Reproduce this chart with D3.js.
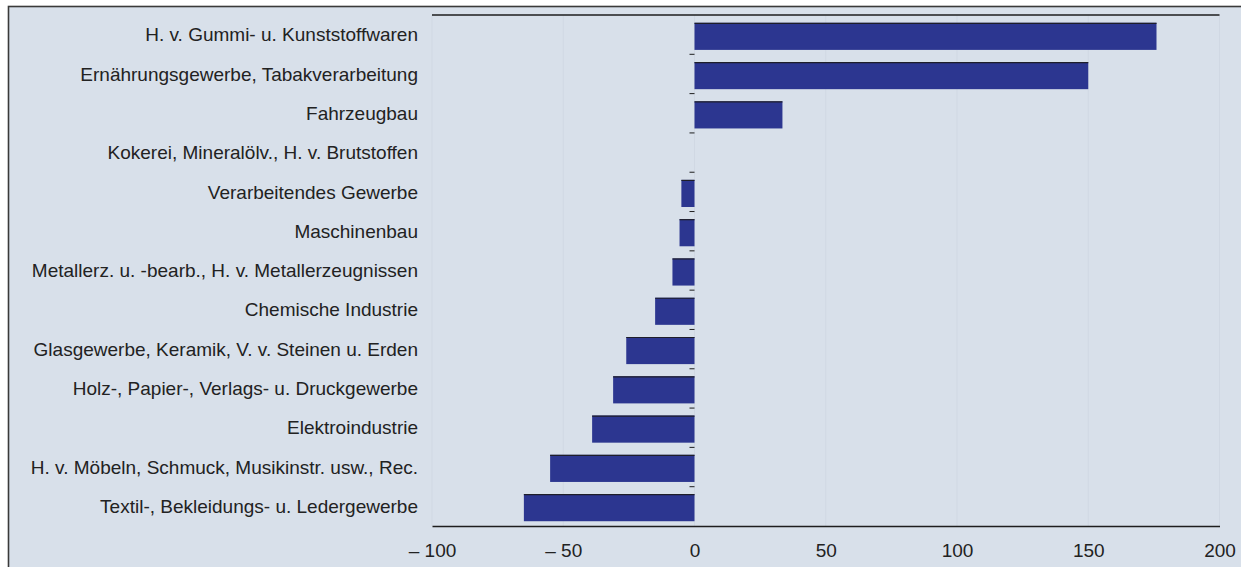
<!DOCTYPE html>
<html><head><meta charset="utf-8">
<script src="https://cdn.jsdelivr.net/npm/d3@7"></script>
<style>
html,body{margin:0;padding:0;background:#fff;}
svg{display:block;}
</style></head>
<body>
<svg id="chart" width="1241" height="567"></svg>
<script>
const categories = [
  "H. v. Gummi- u. Kunststoffwaren",
  "Ernährungsgewerbe, Tabakverarbeitung",
  "Fahrzeugbau",
  "Kokerei, Mineralölv., H. v. Brutstoffen",
  "Verarbeitendes Gewerbe",
  "Maschinenbau",
  "Metallerz. u. -bearb., H. v. Metallerzeugnissen",
  "Chemische Industrie",
  "Glasgewerbe, Keramik, V. v. Steinen u. Erden",
  "Holz-, Papier-, Verlags- u. Druckgewerbe",
  "Elektroindustrie",
  "H. v. Möbeln, Schmuck, Musikinstr. usw., Rec.",
  "Textil-, Bekleidungs- u. Ledergewerbe"
];
const values = [176, 150, 33.5, 0, -5, -5.7, -8.4, -15, -26, -31, -39, -55, -65];
const tickValues = [-100, -50, 0, 50, 100, 150, 200];
const tickLabels = ["– 100", "– 50", "0", "50", "100", "150", "200"];

(function () {
const svg = d3.select("#chart");
const W = 1241, H = 567;
const bg = "#d8e0ea";
const font = "Liberation Sans, Arial, sans-serif";
// frame
svg.append("rect").attr("x", 8.5).attr("y", 6.5).attr("width", W + 10).attr("height", H + 10)
  .attr("fill", bg).attr("stroke", "#3a3a3a").attr("stroke-width", 1.6);

const pL = 432, pR = 1219.5, pT = 15, pB = 526;
const x = d3.scaleLinear().domain([-100, 200]).range([pL, pR]);
const y = d3.scaleBand().domain(categories).range([pT, pB]).paddingInner(0.31).paddingOuter(0.16).align(0.62);

// gridlines
svg.append("g").selectAll("line").data(tickValues).join("line")
  .attr("x1", d => x(d)).attr("x2", d => x(d)).attr("y1", pT).attr("y2", pB)
  .attr("stroke", "#d0d8e3").attr("stroke-width", 1);

// top line
svg.append("line").attr("x1", pL).attr("x2", pR).attr("y1", pT).attr("y2", pT)
  .attr("stroke", "#1e1e1e").attr("stroke-width", 1.3);

// bars
const bars = svg.append("g");
bars.selectAll("rect").data(values).join("rect")
  .attr("x", d => x(Math.min(0, d)))
  .attr("width", d => Math.abs(x(d) - x(0)))
  .attr("y", (d, i) => y(categories[i]))
  .attr("height", y.bandwidth())
  .attr("fill", "#2c3690");
const nonZero = values.map((v, i) => ({v, c: categories[i]})).filter(d => d.v !== 0);
bars.selectAll("line").data(nonZero).join("line")
  .attr("x1", d => x(Math.min(0, d.v)))
  .attr("x2", d => x(Math.max(0, d.v)))
  .attr("y1", d => y(d.c) + 0.5)
  .attr("y2", d => y(d.c) + 0.5)
  .attr("stroke", "#1e1e2a").attr("stroke-width", 1.2);

// small ticks at zero between categories
const boundaries = d3.range(1, categories.length).map(i => pT + (pB - pT) * i / categories.length);
svg.append("g").selectAll("line").data(boundaries).join("line")
  .attr("x1", x(0) - 5).attr("x2", x(0)).attr("y1", d => d).attr("y2", d => d)
  .attr("stroke", "#1e1e1e").attr("stroke-width", 1);

// category labels
svg.append("g").selectAll("text").data(categories).join("text")
  .attr("x", 418)
  .attr("y", (d, i) => pT + (pB - pT) * (i + 0.5) / categories.length)
  .attr("dy", "0.35em")
  .attr("text-anchor", "end")
  .attr("font-family", font)
  .attr("font-size", 19)
  .attr("fill", "#222")
  .text(d => d);

// x axis
const xAxis = d3.axisBottom(x).tickValues(tickValues).tickSize(0).tickPadding(18)
  .tickFormat((d, i) => tickLabels[i]);
const gx = svg.append("g").attr("transform", `translate(0,${pB})`).call(xAxis);
gx.select(".domain").attr("stroke", "#1e1e1e").attr("stroke-width", 1.3);
gx.selectAll("text").attr("font-family", font)
  .attr("font-size", 19).attr("fill", "#222");
})();
</script>
</body></html>
